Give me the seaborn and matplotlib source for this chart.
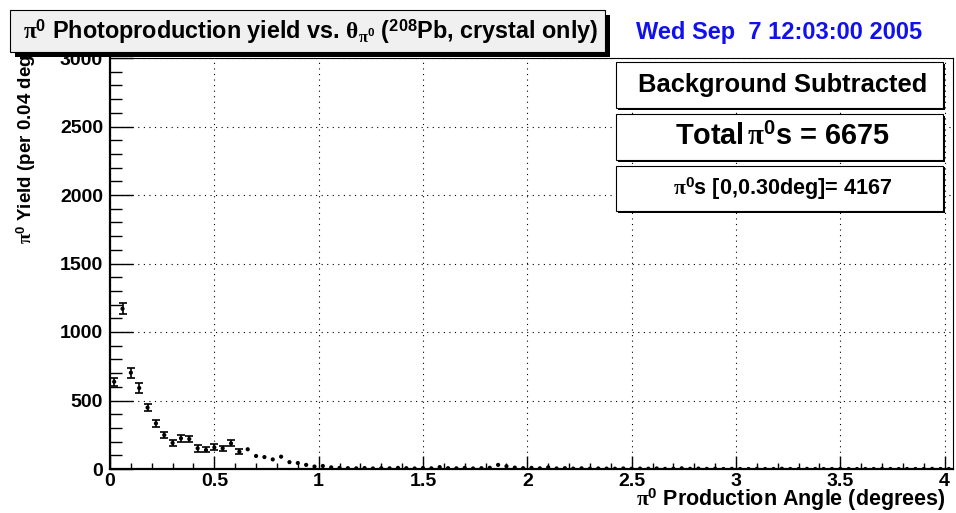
import numpy as np
import matplotlib
matplotlib.use("Agg")
import matplotlib.pyplot as plt
from matplotlib.patches import Rectangle
import seaborn as sns

# ---------------- data ----------------
bin_width = 0.04
# bins 0.02 ... 0.62 (drawn with error bars)
yield_with_err = [637, 1170, 703, 591, 448, 333, 248, 190, 224, 219, 151, 139, 158, 151, 187, 126]
yield_err = [30, 39, 37, 34, 28, 27, 24, 22, 24, 24, 24, 18, 22, 20, 22, 17]
# bins 0.66 ... 4.02 (drawn as points only)
yield_tail = [144, 95, 87, 70, 90, 50, 44, 30, 18, 22,
              12, 8, 6, 5, 7, 4, 6, 5, 8, 6,
              4, 7, 5, 14, 6, 5, 8, 4, 6, 9,
              30, 20, 10, 6, 8, 5, 12, 4, 6, 3,
              5, 2, 4, 3, 2, 4, 2, 3, 2, 4,
              1, 2, 5, 1, 3, 1, 2,
              0, 1, 0, 0, 1, 0, 0, 2, 0, 0, 1, 0, 0, 0,
              1, 0, 0, 0, 0, 1, 0, 0, 0, 0, 0, 1, 0, 0]
x_ticks = [0, 0.5, 1, 1.5, 2, 2.5, 3, 3.5, 4]
x_tick_labels = ["0", "0.5", "1", "1.5", "2", "2.5", "3", "3.5", "4"]
y_ticks = [0, 500, 1000, 1500, 2000, 2500, 3000]
y_tick_labels = ["0", "500", "1000", "1500", "2000", "2500", "3000"]

title_txt = (r"$\mathrm{\pi}^{\mathbf{0}}$ Photoproduction yield vs. "
             r"$\mathrm{\theta}_{\mathrm{\pi}^{\mathbf{0}}}$ ($^{\mathbf{208}}$Pb, crystal only)")
date_txt = "Wed Sep  7 12:03:00 2005"
box_texts = ["Background Subtracted",
             r"Total$\,\mathrm{\pi}^{\mathbf{0}}$s = 6675",
             r"$\mathrm{\pi}^{\mathbf{0}}$s [0,0.30deg]= 4167"]
xlabel_txt = r"$\mathrm{\pi}^{\mathbf{0}}$ Production Angle (degrees)"
ylabel_txt = r"$\mathrm{\pi}^{\mathbf{0}}$ Yield (per 0.04 deg)"

n_all = len(yield_with_err) + len(yield_tail)
centers = np.round(bin_width / 2 + bin_width * np.arange(n_all), 3)
x_err = centers[:len(yield_with_err)]
x_tail = centers[len(yield_with_err):]

# ---------------- style ----------------
sns.set_theme(style="white")
plt.rcParams["font.family"] = ["Liberation Sans", "DejaVu Sans"]
plt.rcParams["font.weight"] = "bold"
plt.rcParams["text.color"] = "black"
plt.rcParams["axes.labelcolor"] = "black"
plt.rcParams["xtick.color"] = "black"
plt.rcParams["ytick.color"] = "black"
plt.rcParams["mathtext.fontset"] = "custom"
plt.rcParams["mathtext.rm"] = "Liberation Serif"
plt.rcParams["mathtext.it"] = "Liberation Serif:italic"
plt.rcParams["mathtext.bf"] = "Liberation Sans:bold"

W, H = 956, 513
fig = plt.figure(figsize=(W / 100, H / 100), dpi=100)
fig.patch.set_facecolor("white")


def fx(px):
    return px / W


def fy(py):
    return 1 - py / H


ax_l, ax_r, ax_t, ax_b = 110, 953, 58, 469
ax = fig.add_axes([fx(ax_l), fy(ax_b), fx(ax_r - ax_l), (ax_b - ax_t) / H])
ax.set_facecolor("white")
ax.set_xlim(0, 4.04)
ax.set_ylim(0, 3000)
ax.set_axisbelow(True)

# data
ax.errorbar(x_err, yield_with_err, yerr=yield_err, fmt="none", ecolor="black",
            elinewidth=1.2, capsize=3.2, capthick=1.2, zorder=3)
sns.scatterplot(x=x_err, y=yield_with_err, ax=ax, color="black", s=9,
                edgecolor="none", zorder=4, legend=False)
sns.scatterplot(x=x_tail, y=yield_tail, ax=ax, color="black", s=9,
                edgecolor="none", zorder=4, legend=False)

# axes styling
ax.set_xticks(x_ticks)
ax.set_xticklabels(x_tick_labels)
ax.set_yticks(y_ticks)
ax.set_yticklabels(y_tick_labels)
ax.set_xticks(np.round(np.arange(0, 4.04, 0.1), 2), minor=True)
ax.set_yticks(np.arange(0, 3001, 100), minor=True)
ax.tick_params(axis="x", which="major", direction="in", length=9.4, width=1.0,
               labelsize=14, pad=3, color="black", labelcolor="black", bottom=True)
ax.tick_params(axis="x", which="minor", direction="in", length=4.3, width=1.0,
               color="black", bottom=True)
ax.tick_params(axis="y", which="major", direction="in", length=16.5, width=1.0,
               labelsize=14, pad=5, color="black", labelcolor="black", left=True)
ax.tick_params(axis="y", which="minor", direction="in", length=8.6, width=1.0,
               color="black", left=True)
for lbl in ax.get_xticklabels() + ax.get_yticklabels():
    lbl.set_fontweight("bold")
ax.grid(True, which="major", color="black", linestyle=(0, (1, 4)), linewidth=0.8)
for side in ["left", "bottom"]:
    ax.spines[side].set_linewidth(1.6)
    ax.spines[side].set_color("black")
for side in ["top", "right"]:
    ax.spines[side].set_linewidth(0.8)
    ax.spines[side].set_color("black")
ax.set_xlabel("")
ax.set_ylabel("")

# axis titles
fig.text(fx(946), fy(506), xlabel_txt, ha="right", va="baseline", fontsize=15.5,
         fontweight="bold", zorder=2)
fig.text(fx(26), fy(48), ylabel_txt, ha="center", va="top", rotation=90,
         fontsize=13.5, fontweight="bold", zorder=2)

# title box with shadow
tb = (10, 10, 605, 52)
fig.patches.append(Rectangle((fx(tb[0] + 5), fy(tb[3] + 5)), fx(tb[2] - tb[0]),
                             (tb[3] - tb[1]) / H, transform=fig.transFigure,
                             facecolor="black", edgecolor="none", zorder=10))
fig.patches.append(Rectangle((fx(tb[0]), fy(tb[3])), fx(tb[2] - tb[0]),
                             (tb[3] - tb[1]) / H, transform=fig.transFigure,
                             facecolor="#f0f0f0", edgecolor="black", linewidth=0.8,
                             zorder=11))
fig.text(fx(311), fy(32), title_txt, ha="center", va="center",
         fontsize=16.8, fontweight="bold", zorder=12)
fig.text(fx(779), fy(33), date_txt, ha="center", va="center", fontsize=17,
         fontweight="bold", color="#1010f0", zorder=12)

# stat boxes
boxes = [(616, 62, 943, 108, 18.4), (616, 114, 943, 160, 20.8), (616, 166, 943, 211, 15.6)]
for (x0, y0, x1, y1, fs), txt in zip(boxes, box_texts):
    fig.patches.append(Rectangle((fx(x0 + 1.5), fy(y1 + 1.5)), fx(x1 - x0), (y1 - y0) / H,
                                 transform=fig.transFigure, facecolor="black",
                                 edgecolor="none", zorder=10))
    fig.patches.append(Rectangle((fx(x0), fy(y1)), fx(x1 - x0), (y1 - y0) / H,
                                 transform=fig.transFigure, facecolor="white",
                                 edgecolor="black", linewidth=0.8, zorder=11))
    fig.text(fx((x0 + x1) / 2 + 3), fy((y0 + y1) / 2), txt, ha="center", va="center",
             fontsize=fs, fontweight="bold", zorder=12)

fig.savefig("out.png", dpi=100, facecolor="white")
